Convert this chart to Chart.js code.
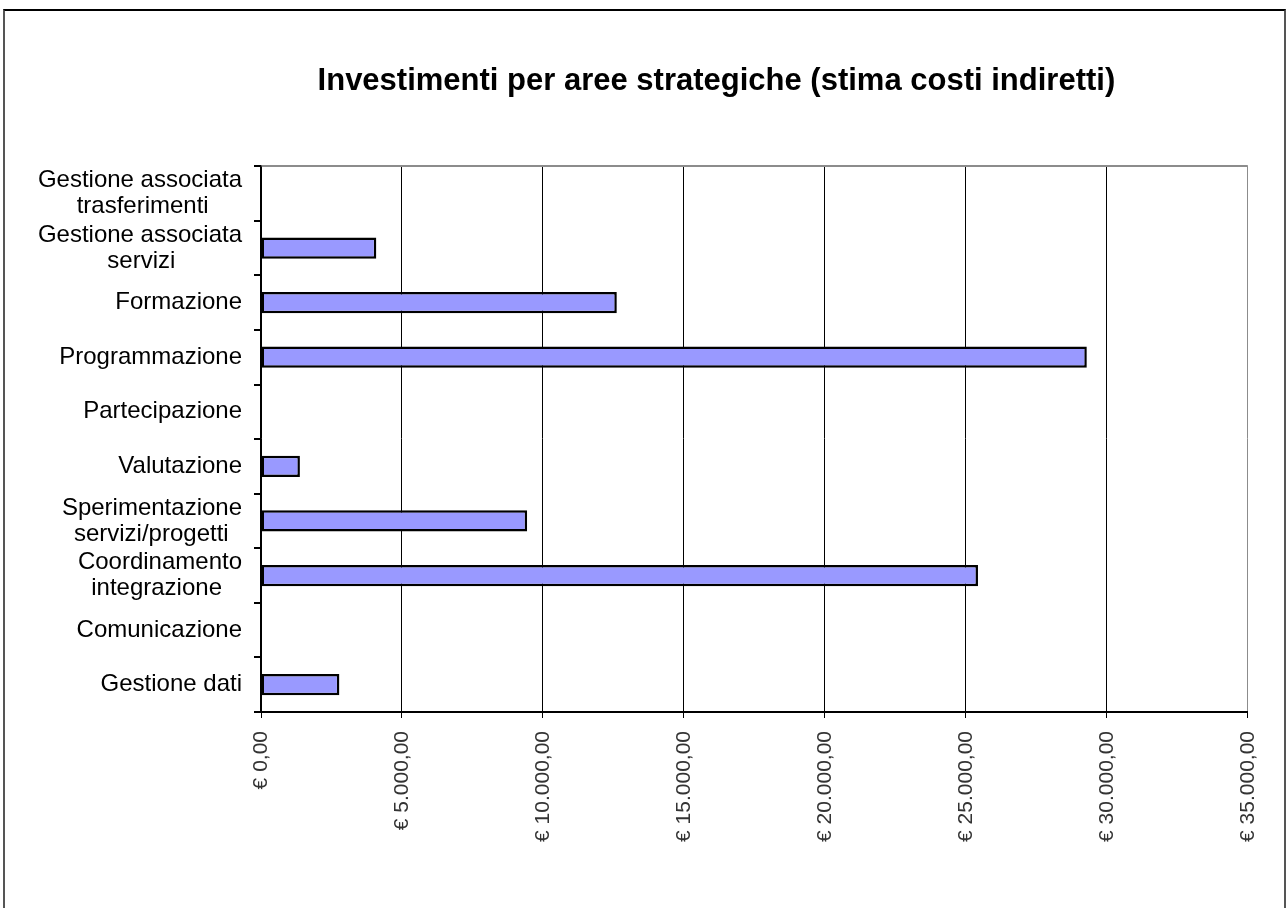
<!DOCTYPE html>
<html lang="it">
<head>
<meta charset="utf-8">
<title>Investimenti per aree strategiche</title>
<script src="https://cdn.jsdelivr.net/npm/chart.js@4.4.1/dist/chart.umd.min.js"></script>
<style>
  html, body { margin: 0; padding: 0; background: #fff; overflow: hidden; }
  #wrap { position: relative; width: 1286px; height: 908px; }
  #frame {
    position: absolute; left: 3px; top: 9px; width: 1279px; height: 920px;
    border-top: 2px solid #000; border-left: 2px solid #555; border-right: 2px solid #555;
    pointer-events: none;
  }
  canvas { position: absolute; left: 0; top: 0; }
</style>
</head>
<body>
<div id="wrap">
  <canvas id="chart" width="1286" height="908"></canvas>
  <div id="frame"></div>
</div>
<script>
// dati (valori in euro)
const categories = [
  ['Gestione associata', 'trasferimenti'],
  ['Gestione associata', 'servizi'],
  'Formazione',
  'Programmazione',
  'Partecipazione',
  'Valutazione',
  ['Sperimentazione', 'servizi/progetti'],
  ['Coordinamento', 'integrazione'],
  'Comunicazione',
  'Gestione dati',
];
const costs = [0, 4090, 12620, 29290, 0, 1380, 9440, 25430, 0, 2780];
const tickLabels = [
  '€ 0,00', '€ 5.000,00', '€ 10.000,00', '€ 15.000,00',
  '€ 20.000,00', '€ 25.000,00', '€ 30.000,00', '€ 35.000,00',
];
const titleText = 'Investimenti per aree strategiche (stima costi indiretti)';

const FONT = "'Liberation Sans', Arial, sans-serif";
const LABEL_SIZE = 24;

// etichette su più righe: righe centrate tra loro (come in Excel),
// ottenuto aggiungendo spazi in coda alle righe più corte
const measureCtx = document.createElement('canvas').getContext('2d');
measureCtx.font = LABEL_SIZE + 'px ' + FONT;
function centerLines(label) {
  if (!Array.isArray(label)) return label;
  const widths = label.map(function (l) {
    return measureCtx.measureText(l).width;
  });
  const maxW = Math.max.apply(null, widths);
  const sp = measureCtx.measureText(' ').width;
  return label.map(function (l, i) {
    const n = Math.round((maxW - widths[i]) / 2 / sp);
    return l + ' '.repeat(n);
  });
}

// il titolo nell'originale è un po' spostato a sinistra rispetto all'area del grafico
const titleShift = {
  id: 'titleShift',
  afterLayout: function (chart) {
    const t = chart.titleBlock;
    if (!t) return;
    const ca = chart.chartArea;
    const shift = (ca.left + ca.right) / 2 - 38 - (t.left + t.right) / 2;
    t.left += shift;
    t.right += shift;
  },
};

new Chart(document.getElementById('chart'), {
  type: 'bar',
  data: {
    labels: categories,
    datasets: [
      {
        data: costs,
        backgroundColor: '#9999ff',
        borderColor: '#000',
        borderWidth: 2.5,
        borderSkipped: false,
        barPercentage: 0.39,
        categoryPercentage: 1,
      },
    ],
  },
  plugins: [titleShift],
  options: {
    indexAxis: 'y',
    responsive: false,
    animation: false,
    layout: { padding: { left: 20, right: 38, top: 0, bottom: 0 } },
    plugins: {
      legend: { display: false },
      tooltip: { enabled: false },
      title: {
        display: true,
        text: titleText,
        color: '#000',
        font: { family: FONT, size: 31, weight: 'bold' },
        padding: { top: 63, bottom: 66 },
      },
    },
    scales: {
      x: {
        min: 0,
        max: 35000,
        ticks: {
          stepSize: 5000,
          minRotation: 90,
          maxRotation: 90,
          padding: 13,
          color: '#333',
          font: { family: FONT, size: 21 },
          callback: function (v, i) {
            return tickLabels[i];
          },
        },
        grid: {
          color: function (ctx) {
            return ctx.tick && ctx.tick.value === 35000 ? '#8c8c8c' : '#000';
          },
          tickColor: '#000',
          tickLength: 6,
          lineWidth: 1,
        },
        border: { color: '#000', width: 2 },
        afterFit: function (s) {
          s.height = 196;
        },
      },
      y: {
        ticks: {
          autoSkip: false,
          padding: 12,
          color: '#000',
          font: { family: FONT, size: LABEL_SIZE, lineHeight: 1.08 },
          callback: function (v, i) {
            return centerLines(categories[i]);
          },
        },
        grid: {
          offset: true,
          color: function (ctx) {
            return ctx.index === 0 ? '#8c8c8c' : 'rgba(0,0,0,0)';
          },
          tickColor: '#000',
          tickLength: 7,
          lineWidth: 2,
        },
        border: { color: '#000', width: 1.5 },
        afterFit: function (s) {
          s.width = 241;
        },
      },
    },
  },
});
</script>
</body>
</html>
